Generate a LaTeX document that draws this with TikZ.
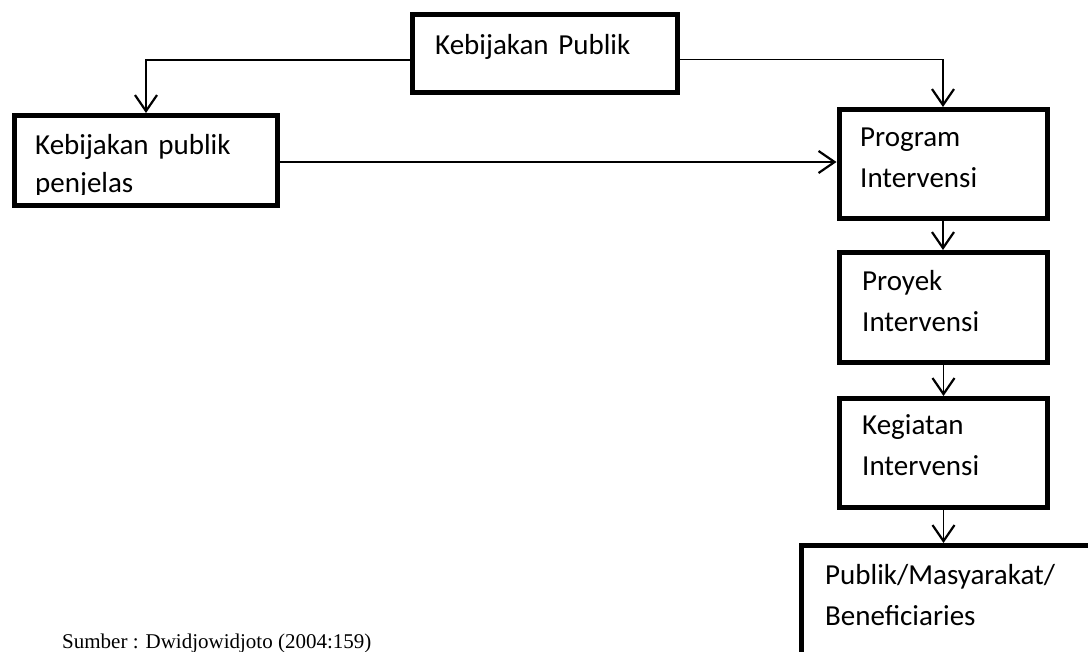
\documentclass[tikz,border=0pt]{standalone}
\usepackage{fontspec}
\setmainfont{Carlito}
\newfontfamily\capfont{Liberation Serif}
\usetikzlibrary{arrows.meta}
\begin{document}
\begin{tikzpicture}[x=1pt,y=-1pt,
  box/.style={draw, line width=5pt, rectangle, inner sep=0pt},
  lbl/.style={anchor=base west, inner sep=0pt, text width=300pt, align=left, font=\fontsize{29}{41}\selectfont},
  conn/.style={line width=1.6pt, -{Straight Barb[length=16pt,width=22pt,line width=2.2pt]}}]
\useasboundingbox (0,0) rectangle (1088,652);
\clip (0,0) rectangle (1088,652);
% boxes
\node[box, minimum width=265pt, minimum height=78pt] (kp) at (545,53.5) {};
\node[box, minimum width=263pt, minimum height=90pt] (kpp) at (146,160.5) {};
\node[box, minimum width=208pt, minimum height=109pt] (prog) at (943,164) {};
\node[box, minimum width=208pt, minimum height=110pt] (proy) at (943.5,307.5) {};
\node[box, minimum width=208pt, minimum height=109pt] (keg) at (943.5,453) {};
\node[box, minimum width=300pt, minimum height=160pt] (pub) at (951.5,625.5) {};
% texts
\node[lbl] (tkp) at (435,55) {Kebijakan Publik};
\begin{scope}
\clip (14.5,115.5) rectangle (277.5,195);
\node[lbl, font=\fontsize{29}{38}\selectfont] (tkpp) at (35,155) {Kebijakan publik\\penjelas};
\end{scope}
\node[lbl] (tprog) at (860,147) {Program\\Intervensi};
\node[lbl] (tproy) at (862,291) {Proyek\\Intervensi};
\node[lbl] (tkeg) at (862,435) {Kegiatan\\Intervensi};
\node[lbl] (tpub) at (825,584) {Publik/Masyarakat/\\Beneficiaries};
\node[anchor=base west, inner sep=0pt, font=\capfont\fontsize{21}{25}\selectfont] (src) at (62,648) {Sumber : Dwidjowidjoto (2004:159)};
% connectors
\draw[conn] ([yshift=-6.5pt]kp.west) -| (kpp.north);
\draw[conn] ([yshift=-6pt]kp.east) -| (prog.north);
\draw[conn] ([yshift=-1.5pt]kpp.east) -- ([yshift=-1.5pt]kpp.east -| prog.west);
\draw[conn] (prog.south) -- (prog.south |- proy.north);
\draw[conn] (proy.south) -- (proy.south |- keg.north);
\draw[conn] (keg.south) -- (keg.south |- pub.north);
\end{tikzpicture}
\end{document}
